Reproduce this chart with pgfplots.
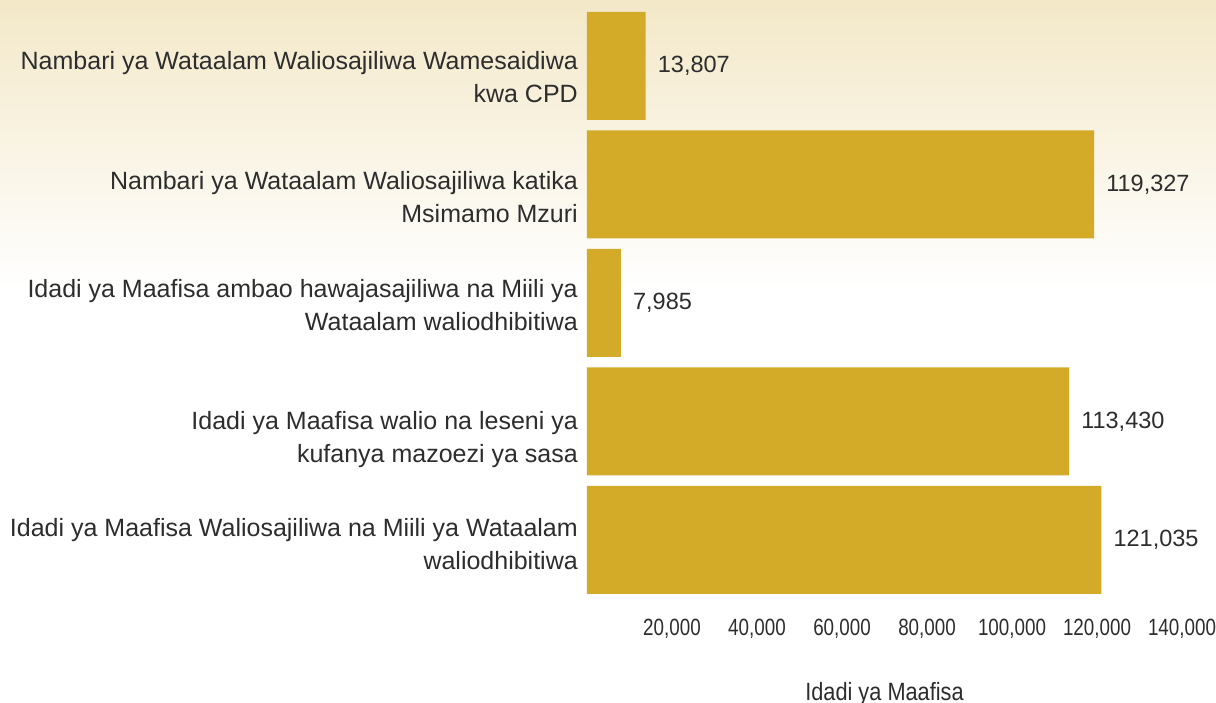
\documentclass[border=0pt]{standalone}
\usepackage{pgfplots}
\pgfplotsset{compat=1.18}
\usepackage{fontspec}
\setmainfont{Liberation Sans}
\newfontfamily\condfont[FakeStretch=0.8]{Liberation Sans}
\newfontfamily\xlfont[FakeStretch=0.87]{Liberation Sans}
\definecolor{bargold}{RGB}{212,170,41}
\definecolor{txt}{RGB}{45,45,45}
\definecolor{cream}{RGB}{243,232,200}
\newcommand{\firstln}{\vphantom{l}}
\newcommand{\lastln}{\vphantom{y}}
\begin{document}
\begin{tikzpicture}[x=1pt,y=1pt]
\useasboundingbox (0,0) rectangle (1216,703);
\fill[white] (0,0) rectangle (1216,703);
\shade[top color=cream, bottom color=white] (0,413) rectangle (1216,703);
\begin{axis}[
  at={(587pt,103.75pt)}, anchor=south west,
  scale only axis, width=595pt, height=592.5pt,
  xbar, bar width=108pt,
  xmin=0, xmax=140000, ymin=-0.5, ymax=4.5,
  axis line style={draw=none},
  major tick length=0pt,
  tick style={draw=none},
  xtick={20000,40000,60000,80000,100000,120000,140000},
  scaled x ticks=false,
  xticklabel style={font=\condfont\fontsize{23.5}{28}\selectfont, text=txt, inner sep=0pt, anchor=north, yshift=-19.5pt},
  xticklabel={\pgfmathprintnumber[1000 sep={,},fixed,precision=0,assume math mode=true]{\tick}},
  ytick={-0.055,0.848,1.962,2.873,3.886},
  yticklabels={
    {\firstln Idadi ya Maafisa Waliosajiliwa na Miili ya Wataalam\\waliodhibitiwa\lastln},
    {\firstln Idadi ya Maafisa walio na leseni ya\\kufanya mazoezi ya sasa\lastln},
    {\firstln Idadi ya Maafisa ambao hawajasajiliwa na Miili ya\\Wataalam waliodhibitiwa\lastln},
    {\firstln Nambari ya Wataalam Waliosajiliwa katika\\Msimamo Mzuri\lastln},
    {\firstln Nambari ya Wataalam Waliosajiliwa Wamesaidiwa\\kwa CPD\lastln}},
  yticklabel style={align=right, font=\fontsize{25}{33}\selectfont, text=txt, inner sep=0pt, anchor=east, xshift=-9pt},
  xlabel={Idadi ya Maafisa},
  xlabel style={at={(axis description cs:0.5,0)}, anchor=north, inner sep=0pt, yshift=-82.5pt, font=\xlfont\fontsize{25}{30}\selectfont, text=txt},
  nodes near coords={\pgfmathprintnumber[1000 sep={,},fixed,precision=0,assume math mode=true]{\pgfplotspointmeta}},
  nodes near coords align=horizontal,
  every node near coord/.append style={font=\fontsize{23.5}{28}\selectfont, text=txt, anchor=west, inner sep=0pt, xshift=12pt},
  clip=false,
]
\addplot[fill=bargold, draw=none] coordinates {
  (121035,0) (113430,1) (7985,2) (119327,3) (13807,4)
};
\end{axis}
\end{tikzpicture}
\end{document}
